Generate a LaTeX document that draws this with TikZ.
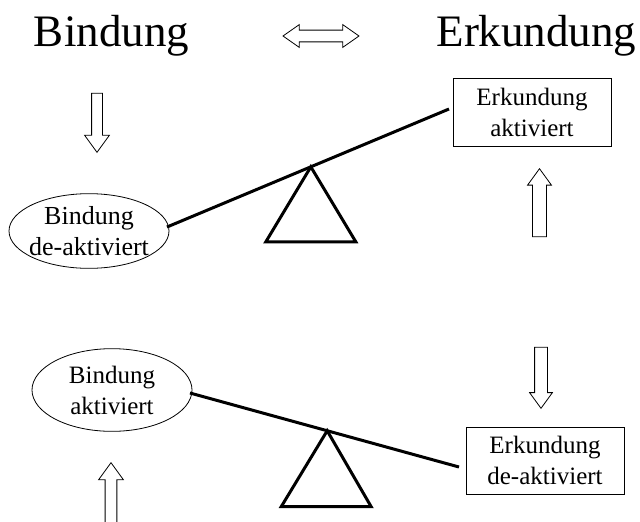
\documentclass[tikz,border=0pt]{standalone}
\usepackage{fontspec}
\setmainfont{Liberation Serif}
\usetikzlibrary{shapes.geometric,shapes.arrows,calc}

\begin{document}
\begin{tikzpicture}[x=0.75pt,y=-0.75pt,
    txt/.style={font=\fontsize{18.75}{23.25}\selectfont, align=center},
    oval/.style={txt, draw, ellipse, line width=0.6pt, inner xsep=-4pt, inner ysep=-2pt, minimum width=120pt},
    panel/.style={txt, draw, rectangle, line width=0.6pt, inner sep=0pt, minimum width=118.5pt},
    heading/.style={font=\fontsize{33.75}{40}\selectfont, inner sep=0pt, anchor=base},
    hollow/.style={single arrow, draw, line width=0.6pt, inner xsep=0pt, anchor=tip, single arrow tip angle=72},
    beam/.style={line width=2.25pt, line join=miter}]
\useasboundingbox (0,0) rectangle (640,522);

% titles
\node[heading] (bind) at (111.5,46) {Bindung};
\node[heading] (erk) at (536.5,46) {Erkundung};
\node[double arrow, draw, line width=0.6pt, inner xsep=0pt, inner ysep=4.1pt, double arrow tip angle=70,
      minimum height=57pt, double arrow head extend=4.1pt] (swap) at (321,36) {};

% upper seesaw
\node[oval, minimum height=56pt, font=\fontsize{19.5}{23.25}\selectfont] (bde) at (89,231) {Bindung\\de-aktiviert};
\node[panel, minimum height=51pt] (eak) at (532,112) {Erkundung\\aktiviert};
\coordinate (t1) at (167,227);
\coordinate (t2) at (449,109);
\draw[beam] (t1) -- (t2);
\coordinate (tp) at ($(t1)!0.51!(t2)$);
\draw[beam] (tp) -- ++(-45,75) -- ++(90,0) -- cycle;
\node[hollow, rotate=-90, minimum height=44.25pt, inner ysep=3.75pt, single arrow head extend=5.25pt] (down1) at (97,153) {};
\node[hollow, rotate=90, minimum height=51pt, inner ysep=4.9pt, single arrow head extend=3.75pt] (up1) at (539.5,168) {};

% lower seesaw
\node[oval, minimum height=62pt] (bak) at (112,390) {Bindung\\aktiviert};
\node[panel, minimum height=50.25pt] (ede) at (545,460.5) {Erkundung\\de-aktiviert};
\coordinate (b1) at (190,393);
\coordinate (b2) at (459,467);
\draw[beam] (b1) -- (b2);
\coordinate (bp) at ($(b1)!0.51!(b2)$);
\draw[beam] (bp) -- ++(-46,76) -- ++(90,0) -- cycle;
\node[hollow, rotate=-90, minimum height=45.75pt, inner ysep=4.5pt, single arrow head extend=3.75pt] (down2) at (541,409) {};
\node[hollow, rotate=90, minimum height=52pt, inner ysep=4.1pt, single arrow head extend=4.9pt] (up2) at (111,462) {};
\end{tikzpicture}
\end{document}
